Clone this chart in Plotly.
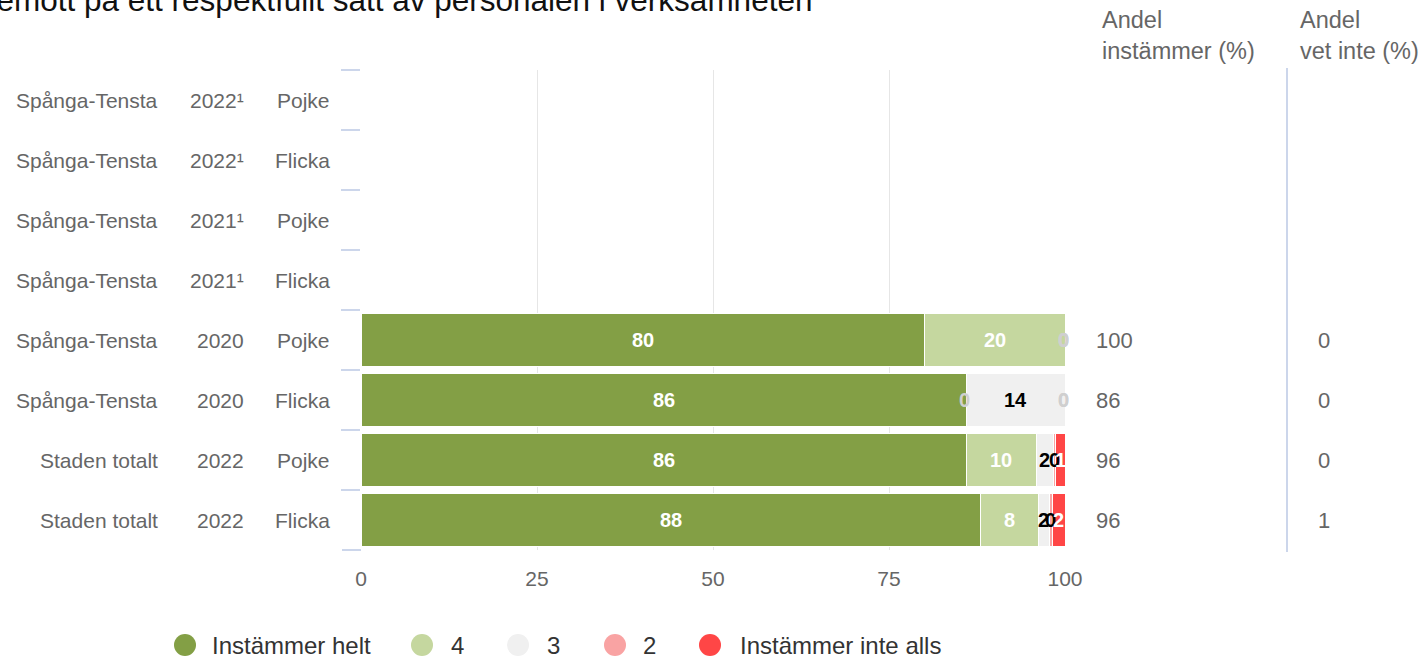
import plotly.graph_objects as go

# ---------------- data ----------------
areas = ["Spånga-Tensta", "Spånga-Tensta", "Spånga-Tensta", "Spånga-Tensta",
         "Spånga-Tensta", "Spånga-Tensta", "Staden totalt", "Staden totalt"]
years = ["2022¹", "2022¹", "2021¹", "2021¹", "2020", "2020", "2022", "2022"]
genders = ["Pojke", "Flicka", "Pojke", "Flicka", "Pojke", "Flicka", "Pojke", "Flicka"]

instammer_helt = [None, None, None, None, 80, 86, 86.0, 88.0]
v4 = [None, None, None, None, 20, 0, 9.9, 8.2]
v3 = [None, None, None, None, 0, 14, 2.4, 1.6]
v2 = [None, None, None, None, 0, 0, 0.4, 0.4]
instammer_inte_alls = [None, None, None, None, 0, 0, 1.3, 1.8]

andel_instammer = [None, None, None, None, 100, 86, 96, 96]
andel_vet_inte = [None, None, None, None, 0, 0, 0, 1]

series_names = ["Instämmer helt", "4", "3", "2", "Instämmer inte alls"]
series_values = [instammer_helt, v4, v3, v2, instammer_inte_alls]

x_ticks = [0, 25, 50, 75, 100]
title_text = "bemött på ett respektfullt sätt av personalen i verksamheten"
header_1 = "Andel<br>instämmer (%)"
header_2 = "Andel<br>vet inte (%)"

# ---------------- styles ----------------
series_colors = ["#839f45", "#c5d79f", "#f0f0f0", "#f9a3a3", "#ff4646"]
label_colors = ["#ffffff", "#ffffff", "#000000", "#000000", "#ffffff"]
zero_label_color = "#cfcfcf"
FONT = "Liberation Sans, Arial, sans-serif"
GREY = "#666666"

keys = [f"{a}|{y}|{g}" for a, y, g in zip(areas, years, genders)]

fig = go.Figure()
for name, vals, col in zip(series_names, series_values, series_colors):
    fig.add_trace(go.Bar(
        y=keys, x=vals, name=name, orientation="h",
        marker=dict(color=col, line=dict(color="#ffffff", width=1)),
        showlegend=False, hoverinfo="x+name",
    ))

annotations = []

# data labels (centred in each segment, positions from the data on the x scale)
for i, k in enumerate(keys):
    cum = 0.0
    for s, vals in enumerate(series_values):
        v = vals[i]
        if v is None:
            continue
        lab = round(v)
        annotations.append(dict(
            x=cum + v / 2, y=k, xref="x", yref="y", text=str(lab),
            showarrow=False, xanchor="center", yanchor="middle",
            xshift=-2 if v == 0 else 0,
            font=dict(family=FONT, size=20, weight="bold",
                      color=zero_label_color if v == 0 else label_colors[s]),
        ))
        cum += v

# left category labels (three columns)
for k, a, y, g in zip(keys, areas, years, genders):
    for txt, shift in ((a, -201), (y, -115), (g, -29)):
        annotations.append(dict(
            x=0, y=k, xref="paper", yref="y", text=txt, showarrow=False,
            xanchor="right", yanchor="middle", xshift=shift,
            font=dict(family=FONT, size=21, color=GREY),
        ))

# right columns
for k, ai, vi in zip(keys, andel_instammer, andel_vet_inte):
    if ai is not None:
        annotations.append(dict(
            x=1, y=k, xref="paper", yref="y", text=str(ai), showarrow=False,
            xanchor="left", yanchor="middle", xshift=29,
            font=dict(family=FONT, size=22, color=GREY)))
    if vi is not None:
        annotations.append(dict(
            x=1, y=k, xref="paper", yref="y", text=str(vi), showarrow=False,
            xanchor="left", yanchor="middle", xshift=251,
            font=dict(family=FONT, size=22, color=GREY)))

for txt, shift in ((header_1, 35), (header_2, 233)):
    annotations.append(dict(
        x=1, y=1, xref="paper", yref="paper", text=txt, showarrow=False,
        xanchor="left", yanchor="middle", xshift=shift, yshift=35, align="left",
        font=dict(family=FONT, size=23.5, color=GREY)))

# title (top is cut off in the reference)
annotations.append(dict(
    x=0, y=1, xref="paper", yref="paper", text=title_text, showarrow=False,
    xanchor="right", yanchor="bottom", xshift=453, yshift=50,
    font=dict(family=FONT, size=31.5, color="#111111")))

# manual legend with round markers
legend_marker_px = [185, 422, 518, 615, 710]
legend_text_px = [210, 449, 545, 641, 738]
shapes = []
for name, col, mx, tx in zip(series_names, series_colors, legend_marker_px, legend_text_px):
    shapes.append(dict(
        type="circle", xref="paper", yref="paper",
        xsizemode="pixel", ysizemode="pixel",
        xanchor=(mx - 361) / 704, yanchor=(550 - 645) / 480,
        x0=-11, x1=11, y0=-11, y1=11,
        fillcolor=col, line=dict(width=0)))
    annotations.append(dict(
        x=0, y=0, xref="paper", yref="paper", text=name, showarrow=False,
        xanchor="left", yanchor="middle", xshift=tx - 361, yshift=-95,
        font=dict(family=FONT, size=24, color="#333333")))

# separator line for the right-hand columns
shapes.append(dict(type="line", xref="paper", yref="paper",
                   x0=(1287 - 361) / 704, x1=(1287 - 361) / 704, y0=-0.004, y1=1.004,
                   line=dict(color="#ccd6eb", width=2)))
# bottom boundary tick of the category axis
shapes.append(dict(type="line", xref="paper", yref="paper", xsizemode="pixel",
                   xanchor=0, x0=-19, x1=0, y0=0, y1=0,
                   line=dict(color="#ccd6eb", width=2)))

fig.update_layout(
    barmode="stack",
    bargap=0.133,
    width=1424, height=657,
    margin=dict(l=361, r=359, t=70, b=107),
    paper_bgcolor="#ffffff", plot_bgcolor="#ffffff",
    font=dict(family=FONT, color=GREY),
    annotations=annotations,
    shapes=shapes,
    showlegend=False,
)
fig.update_xaxes(
    range=[0, 100], tickvals=x_ticks, ticktext=[str(t) for t in x_ticks],
    showgrid=True, gridcolor="#e6e6e6", gridwidth=1, zeroline=False,
    showline=False, ticks="", ticklabelstandoff=14,
    tickfont=dict(family=FONT, size=21, color=GREY), fixedrange=True,
)
fig.update_yaxes(
    type="category", categoryorder="array", categoryarray=keys,
    range=[len(keys) - 0.5, -0.5],
    showticklabels=False, showgrid=False, zeroline=False, showline=False,
    ticks="outside", tickson="boundaries", ticklen=19, tickcolor="#ccd6eb", tickwidth=2,
    fixedrange=True,
)

fig.write_html("out.html", config={"displayModeBar": False},
               post_script="document.body.style.margin='0px';")
